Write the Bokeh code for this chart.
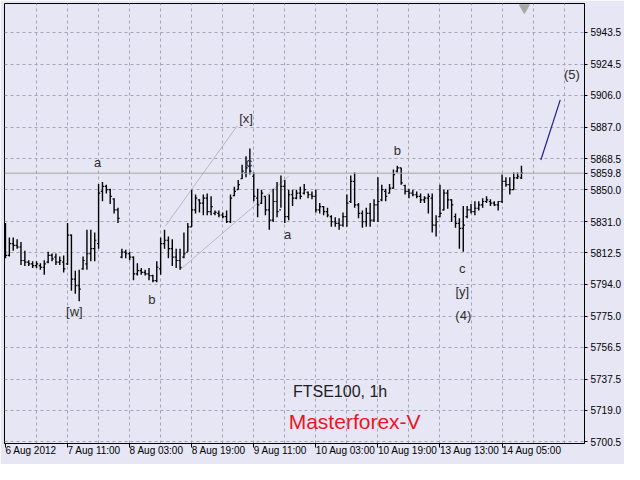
from bokeh.plotting import figure
from bokeh.models import Range1d, FixedTicker, NumeralTickFormatter, ColumnDataSource, Span
from bokeh.embed import file_html
from bokeh.resources import INLINE
from bokeh.core.properties import value

# ---- FTSE100 1h OHLC bars (bar index 0 = 6 Aug 2012 19:00) ----
bar_open = [5813, 5811, 5818, 5817, 5816, 5808, 5807, 5806, 5805, 5805,
            5804, 5807, 5811, 5810, 5807, 5807, 5806, 5823, 5797, 5793,
            5803, 5806, 5812, 5815, 5818, 5849, 5852, 5850, 5844.5, 5838,
            5810, 5813, 5812, 5810, 5800, 5802, 5801, 5800, 5799, 5796,
            5803, 5818, 5820, 5815, 5810, 5808, 5810, 5813, 5828, 5838,
            5844, 5842, 5845, 5837, 5836, 5836, 5835, 5834, 5831, 5846.5,
            5850, 5856.5, 5860, 5864, 5858, 5845, 5842, 5846, 5838, 5832,
            5843, 5838, 5852, 5834, 5847, 5845, 5848, 5848, 5848.5, 5847,
            5846, 5838, 5840, 5837, 5834, 5831, 5830, 5829, 5834, 5843,
            5855, 5841, 5836, 5831, 5836, 5832, 5841, 5844, 5849, 5848,
            5851, 5861, 5863, 5852.5, 5849, 5848, 5847, 5846, 5844, 5845,
            5845, 5829, 5834, 5838, 5848, 5844, 5834, 5830, 5827, 5834,
            5838, 5837, 5839, 5841, 5843, 5843, 5842, 5841, 5843, 5855,
            5853, 5850, 5857, 5857]
bar_high = [5830.2, 5821.7, 5821.7, 5820.6, 5818.9, 5813.8, 5808.1, 5807.6, 5807.6, 5806.4,
            5808.1, 5813.2, 5812.1, 5812.1, 5810.4, 5811.0, 5830.2, 5823.4, 5801.9, 5802.5,
            5810.4, 5826.3, 5826.3, 5824.6, 5853.4, 5854.6, 5852.9, 5850.6, 5844.9, 5839.3,
            5814.9, 5814.3, 5813.2, 5810.4, 5806.4, 5803.6, 5802.5, 5803.6, 5799.6, 5807.6,
            5821.7, 5826.3, 5822.3, 5820.6, 5814.9, 5814.9, 5824.6, 5830.2, 5850.0, 5847.2,
            5844.4, 5847.2, 5847.8, 5846.1, 5837.6, 5837.6, 5836.5, 5837.6, 5847.2, 5851.7,
            5855.7, 5864.8, 5869.9, 5874.4, 5860.2, 5850.6, 5850.0, 5846.1, 5847.2, 5850.6,
            5854.6, 5858.5, 5855.7, 5850.0, 5850.0, 5850.0, 5851.7, 5853.4, 5848.9, 5848.9,
            5850.0, 5842.1, 5840.4, 5839.3, 5834.8, 5833.6, 5833.1, 5836.5, 5847.2, 5858.5,
            5860.2, 5842.1, 5837.6, 5839.3, 5842.1, 5844.4, 5857.4, 5852.9, 5850.6, 5853.4,
            5862.0, 5864.2, 5863.1, 5852.9, 5850.6, 5850.0, 5848.9, 5847.8, 5846.1, 5847.8,
            5847.8, 5834.8, 5852.9, 5850.0, 5850.0, 5844.4, 5835.9, 5833.1, 5840.4, 5840.4,
            5841.5, 5843.2, 5843.2, 5844.9, 5846.1, 5844.4, 5843.2, 5843.2, 5859.1, 5857.4,
            5857.4, 5860.2, 5860.2, 5864.2]
bar_low = [5809.3, 5810.4, 5813.8, 5814.9, 5805.3, 5804.7, 5804.7, 5803.6, 5803.6, 5802.5,
           5799.6, 5806.4, 5807.6, 5805.3, 5805.3, 5800.8, 5805.3, 5790.0, 5788.3, 5783.8,
           5802.5, 5802.5, 5807.6, 5807.6, 5814.9, 5843.2, 5847.8, 5841.5, 5835.9, 5830.2,
           5809.3, 5809.3, 5808.1, 5796.2, 5799.1, 5799.6, 5799.1, 5796.2, 5795.1, 5795.1,
           5799.6, 5814.9, 5809.3, 5804.7, 5803.6, 5802.5, 5809.3, 5813.2, 5828.0, 5835.9,
           5836.5, 5834.8, 5834.8, 5834.8, 5834.8, 5833.6, 5833.1, 5830.2, 5830.2, 5846.1,
           5850.0, 5856.3, 5857.4, 5859.1, 5843.2, 5833.6, 5841.5, 5834.8, 5826.3, 5830.8,
           5833.6, 5839.3, 5830.2, 5831.9, 5840.4, 5844.4, 5844.4, 5847.2, 5844.9, 5844.4,
           5836.5, 5835.9, 5834.8, 5833.6, 5828.0, 5828.0, 5826.3, 5828.0, 5828.0, 5842.1,
           5839.3, 5833.1, 5827.4, 5828.0, 5828.0, 5830.8, 5830.8, 5843.2, 5843.2, 5847.8,
           5850.6, 5860.2, 5852.9, 5847.2, 5844.9, 5846.1, 5844.9, 5842.1, 5842.1, 5835.9,
           5824.6, 5822.3, 5833.6, 5837.6, 5838.7, 5830.8, 5827.4, 5814.9, 5813.2, 5833.1,
           5835.9, 5834.8, 5837.6, 5839.3, 5842.1, 5840.4, 5840.4, 5837.6, 5842.1, 5851.7,
           5847.2, 5850.0, 5856.3, 5856.3]
bar_close = [5811, 5818, 5817, 5816, 5808, 5807, 5806, 5805, 5806, 5804,
             5806, 5811, 5809, 5807, 5808, 5803, 5823, 5797, 5793, 5791,
             5808, 5812, 5815, 5820, 5848, 5852, 5850, 5846, 5838, 5833,
             5813, 5812, 5810, 5800, 5802, 5801, 5800, 5799, 5796, 5804,
             5818, 5820, 5815, 5810, 5808, 5804, 5812, 5828, 5838, 5845,
             5842, 5845, 5837, 5840, 5836.5, 5835, 5834, 5831, 5845, 5849,
             5853, 5861, 5863, 5861, 5846, 5841, 5848, 5838, 5832, 5843,
             5837, 5852, 5834, 5847, 5845, 5848, 5846, 5850, 5847, 5846,
             5838, 5840, 5837, 5835, 5831, 5830, 5829, 5834, 5842, 5855,
             5841, 5836, 5831, 5836, 5832, 5841, 5843, 5850, 5846, 5851,
             5859, 5863, 5854, 5849, 5848, 5847, 5846, 5844, 5845, 5846,
             5829, 5831, 5836, 5848, 5844, 5841, 5830, 5827, 5829, 5838,
             5837, 5839, 5841, 5843, 5844, 5842, 5841, 5843, 5855, 5853,
             5850, 5857, 5858, 5859.8]

time_tick_bars = [0, 16, 32, 48, 64, 80, 96, 112, 128]
time_tick_labels = ["6 Aug 2012", "7 Aug 11:00", "8 Aug 03:00", "8 Aug 19:00", "9 Aug 11:00",
                    "10 Aug 03:00", "10 Aug 19:00", "13 Aug 13:00", "14 Aug 05:00"]
price_ticks = [5700.5, 5719.0, 5737.5, 5756.5, 5775.0, 5794.0, 5812.5, 5831.0,
               5850.0, 5868.5, 5887.0, 5906.0, 5924.5, 5943.5]
last_price = 5859.8

# Elliott wave annotations (bar index, price)
wave_text = ["[w]", "a", "b", "[x]", "c", "a", "b", "c", "[y]", "(4)", "(5)"]
wave_bar = [17.75, 23.75, 37.75, 62.0, 62.75, 72.75, 101.0, 117.75, 117.75, 118.0, 146.0]
wave_price = [5777.5, 5865.9, 5784.9, 5892.0, 5865.9, 5823.4, 5873.3, 5803.0, 5789.5, 5775.3, 5918.6]

# channel lines and projected wave (bar index, price)
upper_channel_bar = [41.25, 59.75]
upper_channel_price = [5828.5, 5888.0]
lower_channel_bar = [45.0, 73.0]
lower_channel_price = [5802.5, 5858.0]
projection_bar = [138.0, 143.0]
projection_price = [5867.6, 5903.3]

BG = "#E6E6F5"
GRID = "#A4A4B6"
FONT = "Liberation Sans"

n = len(bar_close)
idx = list(range(n))
tick = 0.42
src = ColumnDataSource(dict(
    x=idx, o=bar_open, h=bar_high, l=bar_low, c=bar_close,
    xl=[i - tick for i in idx], xr=[i + tick for i in idx]))

p = figure(width=624, height=464, output_backend="svg", toolbar_location=None,
           x_range=Range1d(-0.25, 149.25), y_range=Range1d(5699.4, 5960.5),
           y_axis_location="right", min_border_left=4, min_border_top=3,
           min_border_bottom=15, min_border_right=2)
p.background_fill_color = BG
p.border_fill_color = BG
p.outline_line_color = "black"
p.outline_line_width = 1

# grids
p.xgrid.ticker = FixedTicker(ticks=list(range(8, 149, 8)))
p.ygrid.ticker = FixedTicker(ticks=price_ticks)
for g in (p.xgrid, p.ygrid):
    g.grid_line_color = GRID
    g.grid_line_dash = "3 3"
    g.grid_line_width = 1

# y axis (right), with the last price shown as an extra tick label
ya = p.yaxis[0]
ya.ticker = FixedTicker(ticks=price_ticks + [last_price])
ya.formatter = NumeralTickFormatter(format="0.0")
ya.major_tick_out = 3
ya.major_tick_in = 0
ya.minor_tick_line_color = None
ya.axis_line_color = "black"
ya.major_tick_line_color = "black"
ya.major_label_text_font = FONT
ya.major_label_text_font_size = "10px"
ya.major_label_text_color = "black"
ya.major_label_standoff = 3

# x axis (below): labels start at their tick, as in the terminal
xa = p.xaxis[0]
xa.ticker = FixedTicker(ticks=time_tick_bars)
xa.major_label_overrides = dict(zip(time_tick_bars, time_tick_labels))
xa.major_label_orientation = -0.0001
xa.major_label_standoff = 3
xa.major_label_text_font = FONT
xa.major_label_text_font_size = "10px"
xa.major_label_text_color = "black"
xa.major_tick_out = 4
xa.major_tick_in = 0
xa.minor_tick_line_color = None
xa.axis_line_color = "black"
xa.major_tick_line_color = "black"

# current price line
p.add_layout(Span(location=last_price, dimension="width", line_color="#A6A6A6", line_width=1))

# channel lines
p.line(upper_channel_bar, upper_channel_price, line_color="#B8B8C4", line_width=1)
p.line(lower_channel_bar, lower_channel_price, line_color="#B8B8C4", line_width=1)
p.line(projection_bar, projection_price, line_color="#1E1E9A", line_width=1.2)

# OHLC bars
p.segment(x0="x", y0="l", x1="x", y1="h", source=src, line_color="black", line_width=1.4)
p.segment(x0="xl", y0="o", x1="x", y1="o", source=src, line_color="black", line_width=1.2)
p.segment(x0="x", y0="c", x1="xr", y1="c", source=src, line_color="black", line_width=1.2)

# chart shift marker
p.scatter(x=[133.75], y=[5958.0], marker="inverted_triangle", size=10,
          fill_color="#A8A8A8", line_color="#A8A8A8")

# wave labels
wsrc = ColumnDataSource(dict(x=wave_bar, y=wave_price, t=wave_text))
p.text(x="x", y="y", text="t", source=wsrc, text_align="center", text_baseline="middle",
       text_font=value(FONT), text_font_size="13px", text_color="#2E2E2E")

p.text(x=[86.25], y=[5730.5], text=["FTSE100, 1h"], text_align="center", text_baseline="middle",
       text_font=value(FONT), text_font_size="16px", text_color="#202020")
p.text(x=[90.0], y=[5712.4], text=["Masterforex-V"], text_align="center", text_baseline="middle",
       text_font=value(FONT), text_font_size="21px", text_color="#E8161F")

open("out.html", "w").write(file_html(p, INLINE))
